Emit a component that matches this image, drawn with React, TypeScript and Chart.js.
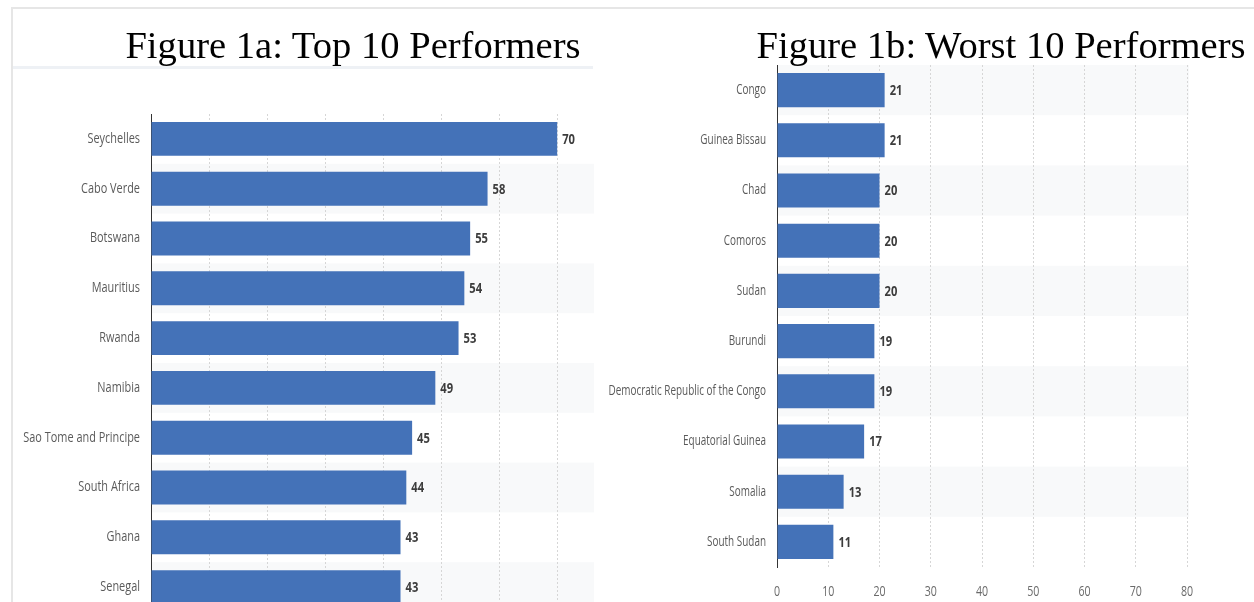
import React, { useEffect, useRef } from "react";
import { Chart, registerables } from "chart.js";

Chart.register(...registerables);

const topCountries = [
  "Seychelles",
  "Cabo Verde",
  "Botswana",
  "Mauritius",
  "Rwanda",
  "Namibia",
  "Sao Tome and Principe",
  "South Africa",
  "Ghana",
  "Senegal",
];
const topScores = [70, 58, 55, 54, 53, 49, 45, 44, 43, 43];

const worstCountries = [
  "Congo",
  "Guinea Bissau",
  "Chad",
  "Comoros",
  "Sudan",
  "Burundi",
  "Democratic Republic of the Congo",
  "Equatorial Guinea",
  "Somalia",
  "South Sudan",
];
const worstScores = [21, 21, 20, 20, 20, 19, 19, 17, 13, 11];

const xTickValues = [0, 10, 20, 30, 40, 50, 60, 70, 80];

const titleTop = "Figure 1a: Top 10 Performers";
const titleWorst = "Figure 1b: Worst 10 Performers";

const BAR_COLOR = "#4472b8";
const SANS = '"Open Sans", "Noto Sans", "DejaVu Sans", sans-serif';

function drawCondensed(
  ctx: CanvasRenderingContext2D,
  text: string,
  x: number,
  y: number,
  align: CanvasTextAlign,
  font: string,
  color: string,
  sx: number
) {
  ctx.save();
  ctx.font = font;
  ctx.fillStyle = color;
  ctx.textAlign = align;
  ctx.textBaseline = "middle";
  ctx.translate(x, y);
  ctx.scale(sx, 1);
  ctx.fillText(text, 0, 0);
  ctx.restore();
}

const bandsPlugin = {
  id: "bands",
  beforeDraw(chart: any, _args: any, opts: any) {
    const { ctx, chartArea } = chart;
    const n = chart.data.labels.length;
    const h = (chartArea.bottom - chartArea.top) / n;
    ctx.save();
    ctx.fillStyle = opts.color || "#f9fafb";
    for (let i = 0; i < n; i++) {
      if (i % 2 === opts.parity) {
        ctx.fillRect(chartArea.left, chartArea.top + i * h, chartArea.right - chartArea.left + 2, h);
      }
    }
    ctx.restore();
  },
};

const textPlugin = {
  id: "condensedText",
  afterDatasetsDraw(chart: any, _args: any, opts: any) {
    const ctx = chart.ctx;
    const { x: xs, y: ys } = chart.scales;
    const labels: string[] = chart.data.labels;
    const data: number[] = chart.data.datasets[0].data;
    const meta = chart.getDatasetMeta(0);
    // category labels
    labels.forEach((lab, i) => {
      const y = ys.getPixelForValue(i);
      drawCondensed(
        ctx,
        lab,
        chart.chartArea.left - 11,
        y,
        "right",
        `${opts.labelSize}px ${SANS}`,
        "#5a5a5a",
        opts.squeeze
      );
    });
    // value labels
    meta.data.forEach((bar: any, i: number) => {
      drawCondensed(ctx, String(data[i]), bar.x + 5, bar.y + 1, "left", `bold 14px ${SANS}`, "#3c3c3c", 0.8);
    });
    // x tick labels
    if (opts.showX) {
      xTickValues.forEach((v) => {
        const x = xs.getPixelForValue(v);
        drawCondensed(ctx, String(v), x, chart.chartArea.bottom + 25, "center", `14px ${SANS}`, "#6a6a6a", 0.76);
      });
    }
  },
};

type Opts = {
  labels: string[];
  values: number[];
  max: number;
  yWidth: number;
  xHeight: number;
  showXTicks: boolean;
  padding: { top: number; right: number; bottom: number; left: number };
  parity: number;
  labelSize: number;
  squeeze: number;
};

function makeConfig(o: Opts): any {
  return {
    type: "bar",
    data: {
      labels: o.labels,
      datasets: [
        {
          data: o.values,
          backgroundColor: BAR_COLOR,
          borderWidth: 0,
          barPercentage: 0.68,
          categoryPercentage: 1,
        },
      ],
    },
    options: {
      indexAxis: "y",
      responsive: false,
      animation: false,
      layout: { padding: o.padding },
      plugins: {
        legend: { display: false },
        tooltip: { enabled: false },
        title: { display: false },
        bands: { parity: o.parity, color: "#f8f9fa" },
        condensedText: { showX: o.showXTicks, labelSize: o.labelSize, squeeze: o.squeeze },
      },
      scales: {
        x: {
          min: 0,
          max: o.max,
          afterBuildTicks: (scale: any) => {
            scale.ticks = scale.ticks.filter((t: any) => t.value % 10 === 0);
          },
          afterFit: (scale: any) => {
            scale.height = o.xHeight;
          },
          ticks: { display: false, stepSize: 10 },
          grid: {
            color: "#d6d6d6",
            lineWidth: 1,
            drawTicks: false,
          },
          border: { display: false, dash: [2, 2] },
        },
        y: {
          afterFit: (scale: any) => {
            scale.width = o.yWidth;
          },
          ticks: { display: false },
          grid: { display: false, drawTicks: false },
          border: { display: true, color: "#333333", width: 1 },
        },
      },
    },
    plugins: [bandsPlugin, textPlugin],
  };
}

function BarChart(props: { opts: Opts; width: number; height: number; style: any }) {
  const ref = useRef<HTMLCanvasElement | null>(null);
  useEffect(() => {
    if (!ref.current) return;
    const chart = new Chart(ref.current, makeConfig(props.opts));
    return () => chart.destroy();
  }, []);
  return (
    <canvas
      ref={ref}
      width={props.width}
      height={props.height}
      style={{ position: "absolute", width: props.width, height: props.height, ...props.style }}
    />
  );
}

const titleStyle: any = {
  position: "absolute",
  fontFamily: '"Liberation Serif", "Times New Roman", serif',
  fontSize: 38.6,
  color: "#000",
  whiteSpace: "nowrap",
  lineHeight: "44px",
  transform: "translateX(-50%)",
};

export default function App() {
  return (
    <div
      style={{
        position: "fixed",
        left: 0,
        top: 0,
        width: 1254,
        height: 602,
        overflow: "hidden",
        background: "#ffffff",
      }}
    >
      {/* frame lines */}
      <div style={{ position: "absolute", left: 11, top: 7, width: 1243, height: 2, background: "#e6e6e6" }} />
      <div style={{ position: "absolute", left: 11, top: 7, width: 2, height: 595, background: "#e6e6e6" }} />
      <div style={{ position: "absolute", left: 13, top: 66, width: 580, height: 3, background: "#eef1f5" }} />

      <BarChart
        width={596}
        height={640}
        style={{ left: 0, top: 0 }}
        opts={{
          labels: topCountries,
          values: topScores,
          max: 76,
          yWidth: 151,
          xHeight: 28,
          showXTicks: false,
          padding: { top: 114, right: 4, bottom: 0, left: 0 },
          parity: 1,
          labelSize: 14,
          squeeze: 0.78,
        }}
      />
      <BarChart
        width={664}
        height={602}
        style={{ left: 590, top: 0 }}
        opts={{
          labels: worstCountries,
          values: worstScores,
          max: 80,
          yWidth: 187,
          xHeight: 35,
          showXTicks: true,
          padding: { top: 65, right: 67, bottom: 0, left: 0 },
          parity: 0,
          labelSize: 14,
          squeeze: 0.71,
        }}
      />

      <div style={{ ...titleStyle, left: 353, top: 23 }}>{titleTop}</div>
      <div style={{ ...titleStyle, left: 1001, top: 23 }}>{titleWorst}</div>
    </div>
  );
}
